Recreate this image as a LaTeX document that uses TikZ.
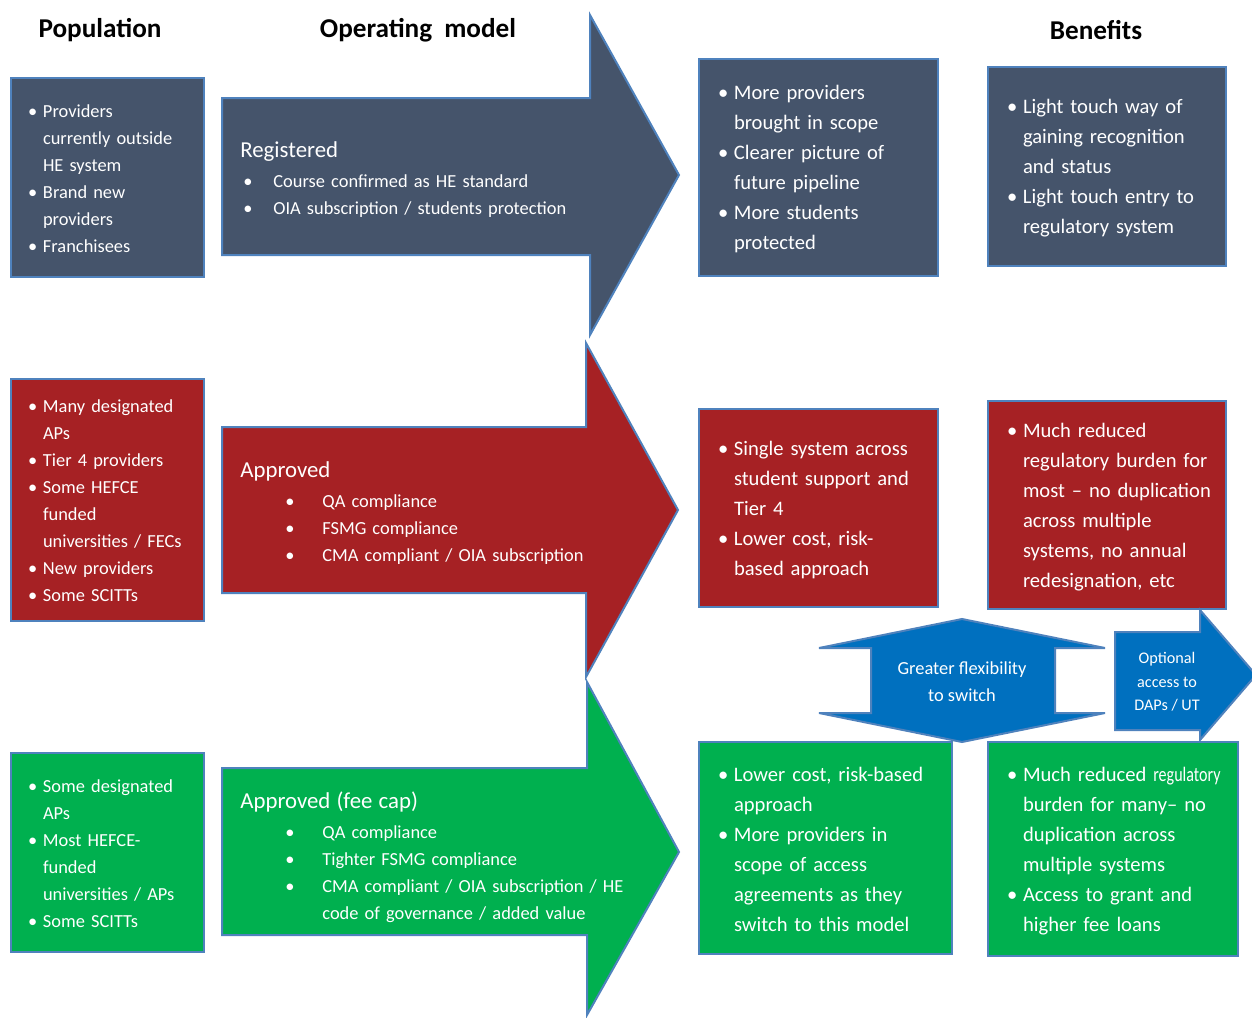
\documentclass[tikz,border=0pt]{standalone}
\usepackage{fontspec}
\setmainfont{Carlito}
\usetikzlibrary{positioning}
\definecolor{mslate}{rgb}{0.27, 0.33, 0.42}
\definecolor{mred}{rgb}{0.65, 0.13, 0.14}
\definecolor{mgreen}{rgb}{0, 0.69, 0.31}
\definecolor{mblue}{rgb}{0, 0.44, 0.75}
\definecolor{mline}{rgb}{0.31, 0.51, 0.74}
\newlength\itmin
\newlength\itmgap
\newcommand{\itm}{\par\hangindent=\dimexpr\itmin+\itmgap\relax\hangafter=1\noindent\hspace*{\itmin}\makebox[\itmgap][l]{\textbullet}}
\newcommand{\subitm}[2]{\par\hangindent=\dimexpr#1+#2\relax\hangafter=1\noindent\hspace*{#1}\makebox[#2][l]{\textbullet}}
\newcommand{\itmend}{\par\vspace{6pt}}
\tikzset{heading/.style = {font=\fontsize{13.6pt}{16pt}\selectfont\bfseries},
         listbox/.style = {draw=mline, line width=1pt, text=white, align=left,
                           inner xsep=0pt, inner ysep=0pt, anchor=north west},
         popbox/.style = {listbox, text width=96.5pt,
                          font=\fontsize{9.2pt}{13.5pt}\selectfont\setlength\itmin{8.5pt}\setlength\itmgap{7.5pt}},
         gainbox/.style = {listbox,
                           font=\fontsize{10.3pt}{15pt}\selectfont\setlength\itmin{9.5pt}\setlength\itmgap{8pt}},
         bigarrow/.style = {draw=mline, line width=1pt},
         modtext/.style = {text=white, align=left, anchor=west, text width=200pt,
                           inner sep=0pt, font=\fontsize{9.2pt}{13.5pt}\selectfont}}

\begin{document}
\begin{tikzpicture}[x=0.5pt, y=-0.5pt]
    \useasboundingbox (0,0) rectangle (1252,1017);

    \node [heading] (hpop) at (100,30) {Population};
    \node [heading] (hmod) at (418,30) {Operating\hspace{3pt} model};
    \node [heading] (hgain) at (1096,30) {Benefits};

    % registered
    \node [popbox, fill=mslate, minimum height=99.5pt] (popreg) at (10,77)
      {\itm Providers\newline currently outside\newline HE system
       \itm Brand new\newline providers
       \itm Franchisees\itmend};
    \draw [bigarrow, fill=mslate] (222,98) -- (590,98) -- (590,15) -- (679,175) -- (590,335) -- (590,255) -- (222,255) -- cycle;
    \node [modtext] (modreg) at (240,180)
      {{\fontsize{11.4pt}{15pt}\selectfont Registered\par}\vspace{1.5pt}
       \subitm{1.5pt}{15pt}Course confirmed as HE standard
       \subitm{1.5pt}{15pt}OIA subscription / students protection\par};
    \node [gainbox, fill=mslate, text width=119.5pt, minimum height=108.5pt] (gainreg) at (698,58)
      {\itm More providers\newline brought in scope
       \itm Clearer picture of\newline future pipeline
       \itm More students\newline protected\itmend};
    \node [gainbox, fill=mslate, text width=119pt, minimum height=99.5pt] (gainregb) at (987,66)
      {\itm Light touch way of\newline gaining recognition\newline and status
       \itm Light touch entry to\newline regulatory system\itmend};

    % approved
    \node [popbox, fill=mred, minimum height=121pt] (popapp) at (10,378)
      {\itm Many designated\newline APs
       \itm Tier 4 providers
       \itm Some HEFCE\newline funded\newline universities / FECs
       \itm New providers
       \itm Some SCITTs\itmend};
    \draw [bigarrow, fill=mred] (222,427) -- (586,427) -- (586,343) -- (678,510) -- (586,677) -- (586,593) -- (222,593) -- cycle;
    \node [modtext] (modapp) at (240,513)
      {{\fontsize{11.4pt}{15pt}\selectfont Approved\par}\vspace{1.5pt}
       \subitm{22.5pt}{18.5pt}QA compliance
       \subitm{22.5pt}{18.5pt}FSMG compliance
       \subitm{22.5pt}{18.5pt}CMA compliant / OIA subscription\par};
    \node [gainbox, fill=mred, text width=119.5pt, minimum height=99pt] (gainapp) at (698,408)
      {\itm Single system across\newline student support and\newline Tier 4
       \itm Lower cost, risk-\newline based approach\itmend};
    \node [gainbox, fill=mred, text width=119pt, minimum height=104pt] (gainappb) at (987,400)
      {\itm Much reduced\newline regulatory burden for\newline most -- no duplication\newline across multiple\newline systems, no annual\newline redesignation, etc\itmend};

    % switching
    \draw [bigarrow, fill=mblue] (962,619) -- (1105,648) -- (1055,648) -- (1055,713) -- (1105,713) -- (962,742)
      -- (819,713) -- (871,713) -- (871,648) -- (819,648) -- cycle;
    \node [text=white, align=center, font=\fontsize{9.2pt}{13.5pt}\selectfont] (flex) at (962,682)
      {Greater flexibility\\to switch};
    \draw [bigarrow, fill=mblue] (1115,632) -- (1200,632) -- (1200,610) -- (1256,675) -- (1200,740) -- (1200,730) -- (1115,730) -- cycle;
    \node [text=white, align=center, font=\fontsize{8.1pt}{11.75pt}\selectfont] (opt) at (1167,682)
      {Optional\\access to\\DAPs / UT};

    % approved (fee cap)
    \node [popbox, fill=mgreen, minimum height=99.5pt] (popfee) at (10,752)
      {\itm Some designated\newline APs
       \itm Most HEFCE-\newline funded\newline universities / APs
       \itm Some SCITTs\itmend};
    \draw [bigarrow, fill=mgreen] (222,768) -- (587,768) -- (587,682) -- (679,852) -- (587,1015) -- (587,935) -- (222,935) -- cycle;
    \node [modtext] (modfee) at (240,857)
      {{\fontsize{11.4pt}{15pt}\selectfont Approved (fee cap)\par}\vspace{1.5pt}
       \subitm{22.5pt}{18.5pt}QA compliance
       \subitm{22.5pt}{18.5pt}Tighter FSMG compliance
       \subitm{22.5pt}{18.5pt}CMA compliant / OIA subscription / HE\newline code of governance / added value\par};
    \node [gainbox, fill=mgreen, text width=126.5pt, minimum height=106pt] (gainfee) at (698,741)
      {\itm Lower cost, risk-based\newline approach
       \itm More providers in\newline scope of access\newline agreements as they\newline switch to this model\itmend};
    \node [gainbox, fill=mgreen, text width=125pt, minimum height=107pt] (gainfeeb) at (987,741)
      {\itm Much reduced \scalebox{0.78}[1]{regulatory}\newline burden for many-- no\newline duplication across\newline multiple systems
       \itm Access to grant and\newline higher fee loans\itmend};
\end{tikzpicture}
\end{document}
